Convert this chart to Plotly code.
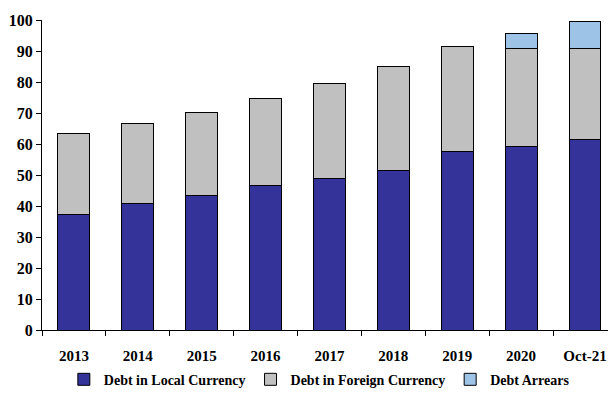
import plotly.graph_objects as go

# Public debt composition, by year
years = ["2013", "2014", "2015", "2016", "2017", "2018", "2019", "2020", "Oct-21"]
local_currency = [37.4, 40.9, 43.3, 46.6, 49.0, 51.5, 57.7, 59.3, 61.4]
foreign_currency = [26.1, 25.7, 26.9, 28.2, 30.4, 33.5, 33.7, 31.4, 29.5]
arrears = [0, 0, 0, 0, 0, 0, 0, 4.8, 8.6]
y_ticks = list(range(0, 101, 10))

FONT = "Liberation Serif"
outline = dict(color="#000000", width=1)

fig = go.Figure()
fig.add_trace(go.Bar(x=years, y=local_currency, name="Debt in Local Currency",
                     marker=dict(color="#333399", line=outline), width=0.5))
fig.add_trace(go.Bar(x=years, y=foreign_currency, name="Debt in Foreign Currency",
                     marker=dict(color="#C0C0C0", line=outline), width=0.5))
fig.add_trace(go.Bar(x=years, y=arrears, name="Debt Arrears",
                     marker=dict(color="#9DC3E6", line=outline), width=0.5))

fig.update_layout(
    barmode="stack",
    width=608, height=396,
    margin=dict(l=42, r=0, t=20, b=66),
    paper_bgcolor="white", plot_bgcolor="white",
    font=dict(family=FONT, size=14, color="#000000"),
    showlegend=True,
    legend=dict(orientation="h", x=0.49, xanchor="center", y=-0.212, yanchor="bottom",
                font=dict(family=FONT, size=14, color="#000000", weight="bold"),
                itemwidth=30, tracegroupgap=0, traceorder="normal"),
    bargap=0.5,
)
fig.update_xaxes(
    type="category", range=[-0.5, 8.36],
    showline=True, linecolor="#000000", linewidth=1,
    ticks="outside", tickson="boundaries", ticklen=5, tickcolor="#000000",
    ticklabelstandoff=12,
    tickfont=dict(family=FONT, size=15, color="#000000", weight="bold"),
    showgrid=False, zeroline=False,
)
fig.update_yaxes(
    range=[0, 100], tickvals=y_ticks,
    showline=True, linecolor="#000000", linewidth=1,
    ticks="outside", ticklen=5, tickcolor="#000000",
    tickfont=dict(family=FONT, size=16, color="#000000", weight="bold"),
    showgrid=False, zeroline=False,
)

fig.write_html("out.html")
